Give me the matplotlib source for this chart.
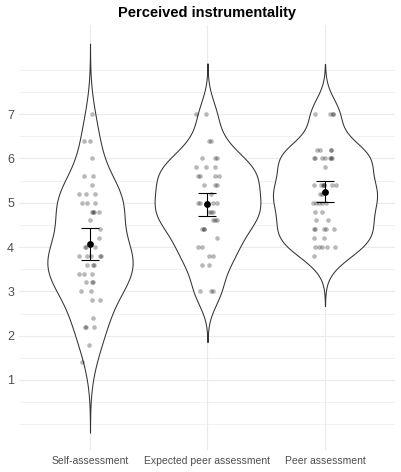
import matplotlib
matplotlib.use('Agg')
import matplotlib.pyplot as plt
import numpy as np

plt.rcParams['font.family'] = ['Liberation Sans', 'DejaVu Sans']

title = 'Perceived instrumentality'
categories = ['Self-assessment', 'Expected peer assessment', 'Peer assessment']
y_ticks = [1, 2, 3, 4, 5, 6, 7]

# ratings per group
self_vals = [7.0, 6.4, 6.4, 6.0, 5.6, 5.6, 5.4, 5.2, 5.2, 5.2, 5.0, 5.0, 5.0,
             4.8, 4.8, 4.8, 4.8, 4.6, 4.4, 4.2, 4.0, 4.0, 4.0, 3.8, 3.8, 3.8,
             3.8, 3.8, 3.6, 3.6, 3.6, 3.4, 3.4, 3.4, 3.2, 3.2, 3.2, 3.0, 3.0,
             2.8, 2.8, 2.4, 2.2, 2.2, 2.2, 1.8, 1.4]
expected_vals = [7.0, 7.0, 6.4, 6.4, 6.0, 6.0, 6.0, 5.8, 5.8, 5.8, 5.6, 5.6,
                 5.6, 5.6, 5.4, 5.4, 5.4, 5.2, 5.0, 5.0, 5.0, 5.0, 5.0, 4.8,
                 4.8, 4.8, 4.6, 4.6, 4.6, 4.4, 4.4, 4.4, 4.2, 4.0, 4.0, 3.8,
                 3.8, 3.6, 3.6, 3.0, 3.0, 3.0]
peer_vals = [7.0, 7.0, 7.0, 7.0, 6.2, 6.2, 6.2, 6.2, 6.0, 6.0, 6.0, 6.0, 6.0,
             6.0, 6.0, 5.8, 5.4, 5.4, 5.4, 5.4, 5.4, 5.4, 5.4, 5.2, 5.2, 5.0,
             5.0, 5.0, 5.0, 5.0, 4.8, 4.8, 4.6, 4.6, 4.4, 4.4, 4.4, 4.4, 4.4,
             4.2, 4.2, 4.0, 4.0, 4.0, 4.0, 4.0, 3.8]

# horizontal jitter of each dot (category units), as seen in the picture
self_jitter = [0.017, -0.051, 0.0, 0.017, -0.051, 0.026, 0.017, -0.094, -0.034,
               0.043, -0.068, -0.026, 0.043, 0.017, 0.026, 0.034, 0.077, 0.0,
               0.085, 0.077, -0.043, -0.034, 0.043, -0.094, -0.026, 0.009,
               0.085, 0.094, -0.026, 0.026, 0.034, -0.094, -0.051, 0.017,
               -0.034, 0.017, 0.026, -0.077, 0.009, 0.017, 0.085, 0.026,
               -0.043, -0.034, 0.034, -0.009, -0.068]
expected_jitter = [-0.094, -0.009, 0.017, 0.034, -0.043, 0.06, 0.077, -0.094,
                   -0.009, 0.068, -0.077, -0.068, 0.06, 0.094, -0.034, 0.06,
                   0.077, 0.034, -0.077, -0.068, 0.0, 0.051, 0.077, 0.017,
                   0.034, 0.051, 0.043, 0.068, 0.085, -0.043, -0.034, -0.026,
                   0.085, -0.085, -0.043, 0.017, 0.043, -0.051, 0.009, -0.068,
                   0.034, 0.051]
peer_jitter = [-0.085, 0.043, 0.068, 0.068, -0.068, -0.043, 0.051, 0.051,
               -0.094, -0.085, -0.026, 0.0, 0.043, 0.051, 0.06, 0.0, -0.094,
               -0.034, -0.017, -0.009, -0.009, 0.06, 0.094, -0.043, -0.026,
               -0.102, -0.077, -0.051, -0.026, 0.009, -0.085, -0.026, -0.077,
               0.026, -0.094, -0.085, -0.009, 0.009, 0.077, -0.094, -0.009,
               -0.085, -0.051, -0.026, 0.017, 0.085, -0.094]

# mean and 95% CI as drawn
means = [4.07, 4.98, 5.24]
ci_low = [3.71, 4.71, 5.01]
ci_high = [4.44, 5.23, 5.49]

groups = [self_vals, expected_vals, peer_vals]
jitters = [self_jitter, expected_jitter, peer_jitter]


def bw_nrd0(x):
    x = np.asarray(x)
    hi = np.std(x, ddof=1)
    iqr = np.subtract(*np.percentile(x, [75, 25]))
    lo = min(hi, iqr / 1.34)
    return 0.9 * lo * len(x) ** -0.2


def kde(x, n=512):
    x = np.asarray(x)
    bw = bw_nrd0(x)
    grid = np.linspace(x.min() - 3 * bw, x.max() + 3 * bw, n)
    d = np.exp(-0.5 * ((grid[:, None] - x[None, :]) / bw) ** 2).sum(axis=1)
    d /= len(x) * bw * np.sqrt(2 * np.pi)
    return grid, d


densities = [kde(g) for g in groups]
dmax = max(d.max() for _, d in densities)

fig = plt.figure(figsize=(4.02, 4.72), dpi=100)
ax = fig.add_axes([19.5 / 402, 22 / 472, 376 / 402, 425 / 472])
ax.set_xlim(0.4, 3.6)
ax.set_ylim(-0.58, 9.01)

# theme_minimal-like grid
grid_col = '#EBEBEB'
for v in np.arange(0, 8.01, 0.5):
    if v in y_ticks:
        ax.axhline(v, color=grid_col, lw=0.8, zorder=0)
    else:
        ax.axhline(v, color=grid_col, lw=0.45, zorder=0)
for i in range(len(categories)):
    ax.axvline(i + 1, color=grid_col, lw=0.8, zorder=0)

for i, (grid, d) in enumerate(densities):
    pos = i + 1
    half = 0.45 * d / dmax
    ax.fill_betweenx(grid, pos - half, pos + half, facecolor='white',
                     edgecolor='#333333', lw=0.75, zorder=1)
    xs = pos + np.asarray(jitters[i])
    ax.scatter(xs, groups[i], s=11, color='black', alpha=0.28,
               linewidths=0, zorder=2)

pos = np.arange(1, len(categories) + 1)
ax.errorbar(pos, means, yerr=[np.array(means) - np.array(ci_low),
                              np.array(ci_high) - np.array(means)],
            fmt='none', ecolor='black', elinewidth=0.8, capsize=6.3,
            capthick=0.8, zorder=3)
ax.scatter(pos, means, s=24, color='black', linewidths=0, zorder=4)

ax.set_xticks(pos)
ax.set_xticklabels(categories)
ax.set_yticks(y_ticks)
ax.tick_params(axis='x', length=0, pad=4, labelsize=7.5, labelcolor='#4D4D4D')
ax.tick_params(axis='y', length=0, pad=4, labelsize=9, labelcolor='#4D4D4D')
for s in ax.spines.values():
    s.set_visible(False)

fig.text(207.5 / 402, 1 - 13 / 472, title, ha='center', va='center',
         fontsize=10.5, fontweight='bold')

fig.savefig('out.png', dpi=100)
